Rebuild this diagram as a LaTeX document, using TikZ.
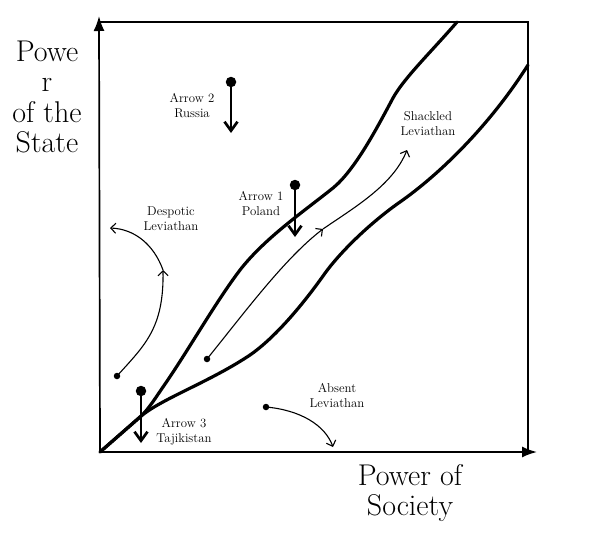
\documentclass[tikz,border=0pt]{standalone}
\usetikzlibrary{arrows.meta}
\begin{document}
\begin{tikzpicture}[x=1pt,y=-1pt,
  axis/.style={line width=1.7pt},
  boundary/.style={line width=3.2pt, line join=round, line cap=round},
  thinarrow/.style={line width=1.1pt, -{Straight Barb[length=5pt,width=10pt,line width=1.1pt]}},
  bigarrow/.style={line width=2.7pt, -{Straight Barb[length=9pt,width=13pt,line width=2.7pt]}},
  lbl/.style={font=\fontsize{12.8}{15}\selectfont, align=center, inner sep=0pt},
  biglbl/.style={font=\fontsize{30}{30.5}\selectfont, align=center, inner sep=0pt},
  bigdot/.style={circle, fill, inner sep=0pt, minimum size=10.5pt},
  smalldot/.style={circle, fill, inner sep=0pt, minimum size=6.5pt}]
\useasboundingbox (0,0) rectangle (590,546);

% axes and box
\coordinate (O) at (100,452);
\coordinate (ytip) at (99,16);
\coordinate (xtip) at (537,452);
\coordinate (TL) at (99,22);
\coordinate (TR) at (528,22);
\coordinate (BR) at (528,452);
\draw[axis, -{Latex[length=15pt,width=11pt]}] (O) -- (ytip);
\draw[axis, -{Latex[length=15pt,width=11pt]}] (O) -- (xtip);
\draw[axis] (TL) -- (TR) -- (BR);

% corridor boundaries
\coordinate (M) at (140,417);
\coordinate (UE) at (457,22);
\coordinate (LE) at (528,65);
\draw[boundary] (O) -- (M) .. controls (148,410) and (155,398.6) .. (163,387)
  .. controls (188,351) and (215,303) .. (240,270)
  .. controls (265,238) and (303,212) .. (333,188)
  .. controls (355,170) and (377,128) .. (393,98)
  .. controls (404,78) and (432,51) .. (UE);
\draw[boundary] (O) -- (M) .. controls (160,399.5) and (207,383) .. (247,357)
  .. controls (272,341) and (301,307) .. (323,276)
  .. controls (339,253) and (370,223) .. (400,202)
  .. controls (440,174) and (490,125) .. (LE);

% axis labels
\node[biglbl] (ylab) at (47,97) {Powe\\r\\of the\\State};
\node[biglbl] (xlab) at (410,493) {Power of\\Society};

% region labels
\node[lbl] (desp) at (171,218.5) {Despotic\\Leviathan};
\node[lbl] (shack) at (428,123.5) {Shackled\\Leviathan};
\node[lbl] (absent) at (337,395.5) {Absent\\Leviathan};
\node[lbl] (russia) at (192,105.5) {Arrow 2\\Russia};
\node[lbl] (poland) at (261,203.5) {Arrow 1\\Poland};
\node[lbl] (tajik) at (184,431.5) {Arrow 3\\Tajikistan};

% thin trajectories
\node[smalldot] (sd) at (207,359) {};
\coordinate (sm) at (323,229);
\coordinate (se) at (407,150);
\draw[thinarrow] (sd.center) .. controls (245,312) and (285,258) .. (sm);
\draw[thinarrow] (sm) .. controls (355,207) and (393,185) .. (se);

\node[smalldot] (dd) at (117,376) {};
\coordinate (dm) at (163,270);
\coordinate (de) at (110,228);
\draw[thinarrow] (dd.center) .. controls (145,345) and (164,328) .. (dm);
\draw[thinarrow] (dm) .. controls (154,245) and (135,229) .. (de);

\node[smalldot] (ad) at (266,407) {};
\coordinate (ae) at (333,447);
\draw[thinarrow] (ad.center) .. controls (300,410) and (325,425) .. (ae);

% thick country arrows
\node[bigdot] (r0) at (231,82) {};
\coordinate (r1) at (231,133);
\draw[bigarrow] (r0.center) -- (r1);

\node[bigdot] (p0) at (295,185) {};
\coordinate (p1) at (295,237);
\draw[bigarrow] (p0.center) -- (p1);

\node[bigdot] (t0) at (141,391) {};
\coordinate (t1) at (141,443);
\draw[bigarrow] (t0.center) -- (t1);
\end{tikzpicture}
\end{document}
